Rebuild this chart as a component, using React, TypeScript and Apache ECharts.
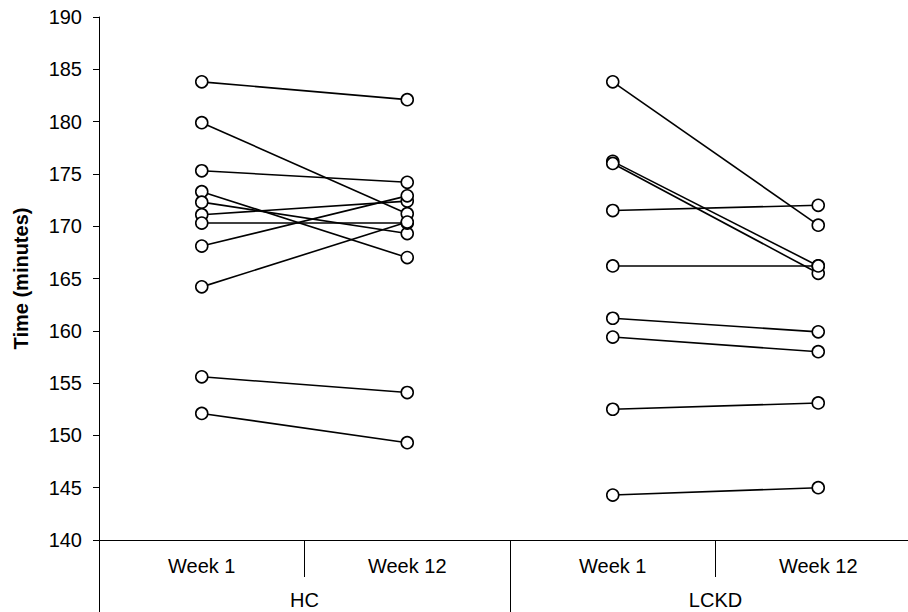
import React, { useEffect, useRef } from "react";
import * as echarts from "echarts";

const weekLabels = ["Week 1", "Week 12", "Week 1", "Week 12"];
const groupLabels = ["HC", "LCKD"];
const yTicks = { min: 140, max: 190, interval: 5 };

// HC subjects: week 1 and week 12 times (minutes)
const hcWeek1 = [183.8, 179.9, 175.3, 173.3, 172.3, 171.1, 170.3, 168.1, 164.2, 155.6, 152.1];
const hcWeek12 = [182.1, 171.2, 174.2, 167.0, 169.3, 172.4, 170.3, 172.9, 170.4, 154.1, 149.3];

// LCKD subjects: week 1 and week 12 times (minutes)
const lckdWeek1 = [183.8, 176.2, 176.0, 171.5, 166.2, 161.2, 159.4, 152.5, 144.3];
const lckdWeek12 = [170.1, 166.2, 165.5, 172.0, 166.2, 159.9, 158.0, 153.1, 145.0];

const FONT = "'Liberation Sans', Arial, sans-serif";

export default function App() {
  const ref = useRef<HTMLDivElement>(null);

  useEffect(() => {
    document.body.style.margin = "0";
    if (!ref.current) return;
    const chart = echarts.init(ref.current, null, { renderer: "svg" });

    const lineSeries = (data: (number | null)[]) => ({
      type: "line",
      xAxisIndex: 0,
      yAxisIndex: 0,
      data,
      connectNulls: false,
      symbol: "circle",
      symbolSize: 12,
      showAllSymbol: true,
      lineStyle: { color: "#000", width: 1.6 },
      itemStyle: { color: "#fff", borderColor: "#000", borderWidth: 1.6 },
      emphasis: { disabled: true },
      silent: true,
    });

    const series: any[] = [];
    hcWeek1.forEach((v, i) => series.push(lineSeries([v, hcWeek12[i], null, null])));
    lckdWeek1.forEach((v, i) => series.push(lineSeries([null, null, v, lckdWeek12[i]])));

    chart.setOption({
      animation: false,
      backgroundColor: "#fff",
      grid: { left: 99, top: 17, width: 822, height: 523, containLabel: false },
      xAxis: [
        {
          type: "category",
          data: weekLabels,
          position: "bottom",
          boundaryGap: true,
          axisLine: { show: true, lineStyle: { color: "#000", width: 1 } },
          axisTick: { show: true, length: 37, interval: 0, lineStyle: { color: "#000", width: 1 } },
          axisLabel: { show: true, interval: 0, margin: 16, color: "#000", fontSize: 20, fontFamily: FONT },
          splitLine: { show: false },
        },
        {
          type: "category",
          data: groupLabels,
          position: "bottom",
          boundaryGap: true,
          axisLine: { show: false },
          axisTick: { show: true, length: 72, interval: 0, lineStyle: { color: "#000", width: 1 } },
          axisLabel: { show: true, interval: 0, margin: 50, color: "#000", fontSize: 20, fontFamily: FONT },
          splitLine: { show: false },
        },
      ],
      yAxis: {
        type: "value",
        min: yTicks.min,
        max: yTicks.max,
        interval: yTicks.interval,
        name: "Time (minutes)",
        nameLocation: "middle",
        nameRotate: 90,
        nameGap: 68,
        nameTextStyle: { color: "#000", fontSize: 20, fontWeight: "bold", fontFamily: FONT },
        axisLine: { show: true, lineStyle: { color: "#000", width: 1 } },
        axisTick: { show: true, length: 6, lineStyle: { color: "#000", width: 1 } },
        axisLabel: { color: "#000", fontSize: 20, margin: 17, fontFamily: FONT },
        splitLine: { show: false },
      },
      series,
    });

    return () => chart.dispose();
  }, []);

  return (
    <div style={{ width: 908, height: 612, overflow: "hidden", position: "relative" }}>
      <div ref={ref} style={{ width: 930, height: 612 }} />
    </div>
  );
}
